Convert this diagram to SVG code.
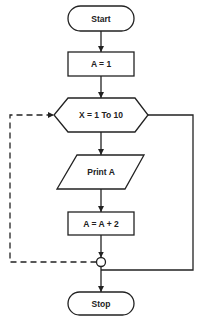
<svg xmlns="http://www.w3.org/2000/svg" width="215" height="319" viewBox="0 0 215 319">
<style>
.s{fill:#fff;stroke:#222;stroke-width:1.3}
.t{font-family:"Liberation Sans",Arial,sans-serif;font-weight:bold;font-size:8.5px;fill:#222;text-anchor:middle;dominant-baseline:central}
.c{fill:none;stroke:#222;stroke-width:1.3}
.d{fill:none;stroke:#222;stroke-width:1.3;stroke-dasharray:6 4}
</style>
<defs>
<marker id="ah" markerWidth="6" markerHeight="8" refX="7" refY="3.5" orient="auto" markerUnits="userSpaceOnUse" viewBox="0 0 7 7"><path d="M0,0 L7,3.5 L0,7 Z" fill="#222"/></marker>
</defs>
<rect width="215" height="319" fill="#fff"/>
<g id="connectors">
<line class="c" x1="101" y1="31" x2="101" y2="52" marker-end="url(#ah)"/>
<line class="c" x1="101" y1="76" x2="101" y2="98" marker-end="url(#ah)"/>
<line class="c" x1="101" y1="132" x2="101" y2="155" marker-end="url(#ah)"/>
<line class="c" x1="101" y1="189" x2="101" y2="212" marker-end="url(#ah)"/>
<line class="c" x1="101" y1="235" x2="101" y2="257.5" marker-end="url(#ah)"/>
<polyline class="d" points="96.5,262 10,262 10,115 54,115" marker-end="url(#ah)"/>
<polyline class="c" points="148,115 193,115 193,270 101,270"/>
<line class="c" x1="101" y1="266.5" x2="101" y2="292" marker-end="url(#ah)"/>
</g>
<g id="start"><rect class="s" x="68" y="6" width="66" height="25" rx="12.5"/><text class="t" x="101" y="18.5">Start</text></g>
<g id="a1"><rect class="s" x="68" y="52" width="66" height="24"/><text class="t" x="101" y="64">A = 1</text></g>
<g id="loop"><polygon class="s" points="68,98 135,98 148,115 135,132 68,132 54,115"/><text class="t" x="101" y="115">X = 1 To 10</text></g>
<g id="print"><polygon class="s" points="77,155 144,155 125,189 57,189"/><text class="t" x="101" y="172">Print A</text></g>
<g id="inc"><rect class="s" x="68" y="212" width="66" height="23"/><text class="t" x="101" y="223.5">A = A + 2</text></g>
<g id="join"><circle class="s" cx="101" cy="262" r="4.5"/></g>
<g id="stop"><rect class="s" x="68" y="292" width="66" height="23" rx="11.5"/><text class="t" x="101" y="303.5">Stop</text></g>
</svg>
